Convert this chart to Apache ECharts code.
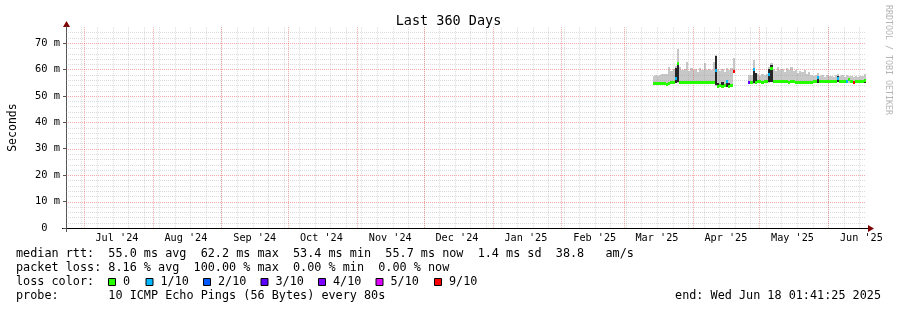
<!DOCTYPE html>
<html><head><meta charset="utf-8">
<script src="https://cdn.jsdelivr.net/npm/echarts@6/dist/echarts.min.js"></script>
<style>html,body{margin:0;padding:0;background:#fff}#c{width:897px;height:310px}</style>
</head><body><div id="c"></div>
<script>
// ---- data (one value per day, starting at firstDay) ----
const firstDay = '2025-03-14';
const median = [
  54.7, 54.7, 54.6, 54.7, 54.8, 54.6, 54.2, 54.8, 54.9, 54.9,
  56.6, 62.2, 55.0, 55.0, 54.9, 55.0, 55.0, 54.9, 55.0, 55.1,
  55.0, 55.0, 54.9, 55.0, 55.0, 55.1, 54.9, 55.0, 59.7, 53.6,
  53.8, 53.4, 53.9, 55.4, 53.7, 53.9, 59.1, null, null, null,
  null, null, null, 55.1, 55.2, 59.8, 55.0, 55.3, 55.3, 55.2,
  55.3, 55.3, 58.1, 60.4, 55.4, 55.4, 55.3, 55.4, 55.3, 55.4,
  55.3, 55.2, 55.3, 55.4, 55.1, 55.0, 55.1, 55.0, 55.1, 55.1,
  55.0, 55.1, 55.4, 55.3, 57.1, 55.4, 55.3, 55.4, 55.3, 55.3,
  55.4, 55.3, 55.4, 56.6, 55.4, 55.3, 55.4, 55.6, 56.2, 55.5,
  55.0, 55.4, 55.3, 55.4, 55.4, 55.7
];
const smokeLo = [
  54.2, 54.1, 54.0, 54.2, 54.2, 54.0, 53.7, 54.2, 54.3, 54.3,
  54.9, 55.0, 54.4, 54.4, 54.3, 54.4, 54.4, 54.3, 54.4, 54.5,
  54.4, 54.4, 54.3, 54.4, 54.4, 54.5, 54.3, 54.4, 53.8, 53.0,
  53.2, 52.9, 53.3, 53.4, 53.1, 53.3, 58.5, null, null, null,
  null, null, null, 54.6, 54.6, 54.6, 54.5, 54.7, 54.7, 54.6,
  54.7, 54.7, 55.0, 55.1, 54.8, 54.8, 54.7, 54.8, 54.7, 54.8,
  54.7, 54.6, 54.7, 54.8, 54.5, 54.4, 54.5, 54.4, 54.5, 54.5,
  54.4, 54.5, 54.8, 54.7, 54.9, 54.8, 54.7, 54.8, 54.7, 54.7,
  54.8, 54.7, 54.8, 55.1, 54.8, 54.7, 54.8, 55.0, 55.0, 54.9,
  54.4, 54.8, 54.7, 54.8, 54.8, 55.1
];
const smokeHi = [
  57.4, 57.8, 57.5, 57.9, 58.3, 58.1, 58.4, 60.9, 59.5, 60.2,
  61.2, 67.6, 60.8, 59.6, 60.2, 62.9, 59.4, 60.5, 59.8, 60.1,
  59.2, 60.4, 59.7, 62.3, 59.9, 60.3, 59.6, 62.8, 65.5, 60.2,
  59.5, 60.0, 58.9, 60.4, 59.8, 60.6, 64.2, null, null, null,
  null, null, null, 57.8, 58.0, 63.6, 58.6, 58.2, 57.7, 58.4,
  58.0, 58.3, 61.0, 62.3, 60.2, 59.4, 60.8, 59.6, 60.3, 59.1,
  60.5, 59.8, 60.9, 59.5, 59.7, 58.6, 59.4, 58.9, 59.8, 58.4,
  59.1, 58.0, 57.6, 57.9, 58.7, 57.4, 57.8, 57.2, 57.9, 57.5,
  57.7, 57.3, 57.8, 58.3, 57.5, 57.8, 57.2, 57.8, 57.6, 57.4,
  57.3, 57.7, 57.2, 57.6, 57.4, 58.2
];
// dense (dark) smoke where pings spread out
const coreDates = ['2025-03-24','2025-03-25','2025-04-11','2025-04-12','2025-04-14','2025-04-16','2025-04-17','2025-04-28','2025-04-29','2025-05-05','2025-05-06','2025-05-27','2025-06-05','2025-06-17'];
const coreLo = [55.0, 55.2, 54.0, 53.2, 53.3, 53.5, 53.3, 54.7, 54.8, 55.2, 55.3, 55.0, 55.3, 55.0];
const coreHi = [60.5, 62.6, 65.0, 54.8, 55.2, 55.6, 55.0, 60.0, 58.5, 60.0, 61.7, 57.5, 57.4, 56.3];
// packet loss (pings lost out of 10)
const lossDates = ['2025-03-24','2025-04-11','2025-04-16','2025-04-19','2025-04-26','2025-04-28','2025-05-05','2025-05-27','2025-06-05','2025-06-09','2025-06-12'];
const lossCount = [1, 1, 1, 9, 3, 1, 1, 1, 1, 1, 9];

const monthStarts = ['2024-07-01','2024-08-01','2024-09-01','2024-10-01','2024-11-01','2024-12-01','2025-01-01','2025-02-01','2025-03-01','2025-04-01','2025-05-01','2025-06-01'];
const monthLabels = ["Jul '24","Aug '24","Sep '24","Oct '24","Nov '24","Dec '24","Jan '25","Feb '25","Mar '25","Apr '25","May '25","Jun '25"];
const yTicks = [0, 10, 20, 30, 40, 50, 60, 70];
const lossLevels = [0, 1, 2, 3, 4, 5, 9];
const lossLabels = ['0', '1/10', '2/10', '3/10', '4/10', '5/10', '9/10'];
const lossColors = ['#26ff00', '#00b8ff', '#0059ff', '#5e00ff', '#7e00ff', '#dd00ff', '#ff0000'];

// ---- build ----
const DAY = 86400000;
const tMin = Date.UTC(2024, 5, 23, 1, 41, 25);
const tMax = Date.UTC(2025, 5, 18, 1, 41, 25);
const t0 = Date.parse(firstDay);
const coreMap = {}; coreDates.forEach((d, i) => coreMap[Date.parse(d)] = [coreLo[i], coreHi[i]]);
const lossMap = {}; lossDates.forEach((d, i) => lossMap[Date.parse(d)] = lossCount[i]);
const rows = [];
median.forEach((m, i) => {
  if (m == null) return;
  const t = t0 + i * DAY;
  const c = coreMap[t] || [null, null];
  rows.push([t, m, smokeLo[i], smokeHi[i], c[0], c[1], lossMap[t] || 0]);
});

const gridRows = [];
for (let t = Date.UTC(2024, 5, 30); t < tMax; t += 7 * DAY) gridRows.push([t, 0, 0]);
for (let v = 2; v < 76; v += 2) if (v % 10) gridRows.push([tMin, v, 2]);
monthStarts.forEach(s => gridRows.push([Date.parse(s), 0, 1]));
yTicks.forEach(v => { if (v > 0) gridRows.push([tMin, v, 3]); });

const labelVals = monthStarts.map(s => Date.parse(s) + 15 * DAY);
const labelMap = {}; labelVals.forEach((v, i) => labelMap[v] = monthLabels[i]);

function renderGrid(params, api) {
  const cs = params.coordSys, k = api.value(2);
  const p = api.coord([api.value(0), api.value(1)]);
  const col = (k === 1 || k === 3) ? 'rgba(230,50,50,0.42)' : 'rgba(150,150,150,0.33)';
  let shape;
  if (k < 2) { const x = Math.round(p[0]) + 0.5; shape = {x1: x, y1: cs.y, x2: x, y2: cs.y + cs.height}; }
  else { const y = Math.round(p[1]) + 0.5; shape = {x1: cs.x, y1: y, x2: cs.x + cs.width, y2: y}; }
  return {type: 'line', shape, style: {stroke: col, lineWidth: 1, lineDash: [1, 1]}};
}
function renderSmoke(params, api) {
  const t = api.value(0);
  const a = api.coord([t, api.value(3)]), b = api.coord([t + DAY, api.value(2)]);
  const x0 = Math.round(a[0]), x1 = Math.round(b[0]), y0 = Math.round(a[1]), y1 = Math.round(b[1]);
  return {type: 'rect', shape: {x: x0, y: y0, width: x1 - x0, height: y1 - y0}, style: {fill: '#c8c8c8'}};
}
function renderMedian(params, api) {
  const t = api.value(0);
  const xa = Math.round(api.coord([t, 0])[0]), xb = Math.round(api.coord([t + DAY, 0])[0]);
  const children = [];
  const cl = api.value(4), ch = api.value(5);
  if (!isNaN(cl) && !isNaN(ch)) {
    const ya = Math.round(api.coord([t, ch])[1]), yb = Math.round(api.coord([t, cl])[1]);
    children.push({type: 'rect', shape: {x: xa, y: ya, width: xb - xa, height: yb - ya}, style: {fill: '#262626'}});
  }
  const ym = api.coord([t, api.value(1)])[1];
  const li = Math.max(0, lossLevels.indexOf(api.value(6)));
  children.push({type: 'rect', shape: {x: xa, y: Math.round(ym - 1.5), width: xb - xa, height: 3}, style: {fill: lossColors[li]}});
  return {type: 'group', children};
}

const MONO = 'DejaVu Sans Mono';
const LF = 11.8;
function txt(text, x, y, extra) {
  return Object.assign({type: 'text', x, y, silent: true, style: Object.assign({text, fill: '#000', fontFamily: MONO, fontSize: LF, verticalAlign: 'middle'}, extra || {})});
}
const graphics = [
  txt('median rtt:  55.0 ms avg  62.2 ms max  53.4 ms min  55.7 ms now  1.4 ms sd  38.8   am/s', 16, 254),
  txt('packet loss: 8.16 % avg  100.00 % max  0.00 % min  0.00 % now', 16, 268),
  txt('loss color:', 16, 282),
  txt('probe:       10 ICMP Echo Pings (56 Bytes) every 80s', 16, 296),
  txt('end: Wed Jun 18 01:41:25 2025', 881, 296, {align: 'right'}),
  {type: 'text', x: 888, y: 60, rotation: -Math.PI / 2, silent: true,
   style: {text: 'RRDTOOL / TOBI OETIKER', fill: '#b4b4b4', fontFamily: MONO, fontSize: 8.3, align: 'center', verticalAlign: 'middle'}},
  {type: 'polygon', silent: true, shape: {points: [[868, 225], [874, 228.5], [868, 232]]}, style: {fill: '#7f0000'}},
  {type: 'polygon', silent: true, shape: {points: [[63, 27], [66.5, 21], [70, 27]]}, style: {fill: '#7f0000'}},
  {type: 'line', silent: true, shape: {x1: 62, y1: 228.5, x2: 868, y2: 228.5}, style: {stroke: '#000', lineWidth: 1}},
  {type: 'line', silent: true, shape: {x1: 66.5, y1: 26, x2: 66.5, y2: 232}, style: {stroke: '#555', lineWidth: 1}}
];
const boxX = [108, 145.5, 203, 260.5, 318, 375.5, 434];
lossLabels.forEach((l, i) => {
  graphics.push({type: 'rect', silent: true, shape: {x: boxX[i] + 0.5, y: 278.5, width: 7, height: 7}, style: {fill: lossColors[i], stroke: '#000', lineWidth: 1}});
  graphics.push(txt(l, boxX[i] + 15, 282));
});

const chart = echarts.init(document.getElementById('c'), null, {renderer: 'canvas'});
chart.setOption({
  animation: false,
  backgroundColor: '#fff',
  textStyle: {fontFamily: MONO},
  title: {text: 'Last 360 Days', left: 'center', top: 9, textStyle: {fontFamily: MONO, fontSize: 13.5, fontWeight: 'normal', color: '#000'}},
  grid: {left: 66, right: 31, top: 27.14, bottom: 82, containLabel: false, outerBoundsMode: 'none'},
  xAxis: {
    type: 'value', min: tMin, max: tMax,
    axisLine: {show: false}, axisTick: {show: false}, splitLine: {show: false},
    axisLabel: {customValues: labelVals, formatter: v => labelMap[v] || '', fontFamily: MONO, fontSize: 10.2, color: '#000', margin: 5}
  },
  yAxis: {
    type: 'value', min: 0, max: 76,
    axisLine: {show: false},
    axisTick: {show: true, length: 3, customValues: yTicks, lineStyle: {color: '#555'}},
    axisLabel: {customValues: yTicks, formatter: v => v === 0 ? '0  ' : v + ' m', fontFamily: MONO, fontSize: 10.4, color: '#000', margin: 6},
    splitLine: {show: false},
    name: 'Seconds', nameLocation: 'middle', nameGap: 47, nameRotate: 90,
    nameTextStyle: {fontFamily: MONO, fontSize: 11.5, color: '#000'}
  },
  series: [
    {type: 'custom', z: 1, silent: true, data: rows, encode: {x: 0, y: 1}, renderItem: renderSmoke},
    {type: 'custom', z: 2, silent: true, data: gridRows, encode: {x: 0, y: 1}, renderItem: renderGrid},
    {type: 'custom', z: 3, silent: true, data: rows, encode: {x: 0, y: 1}, renderItem: renderMedian}
  ],
  graphic: graphics
});
</script></body></html>
